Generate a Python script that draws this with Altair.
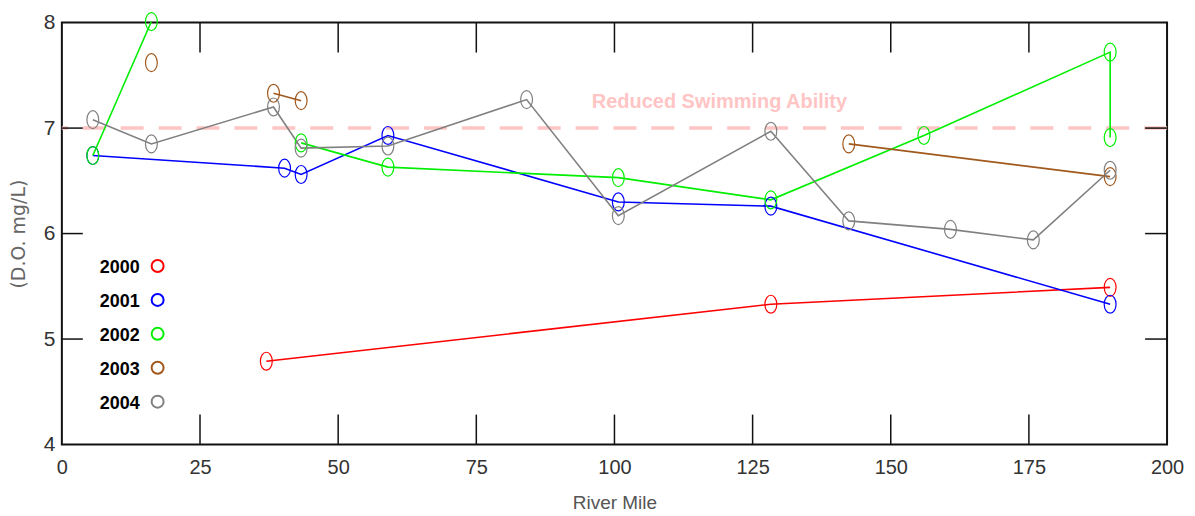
import altair as alt
import pandas as pd

# ---- data ----
years = ["2000", "2001", "2002", "2003", "2004"]
colors = ["#ff0000", "#0000ff", "#00ee00", "#a0581c", "#808080"]

mile_2000 = [37.0, 128.3, 189.7]
do_2000 = [4.79, 5.33, 5.49]
seg_2000 = [0, 0, 0]

mile_2001 = [5.6, 40.3, 43.3, 59.0, 100.7, 128.3, 189.7]
do_2001 = [6.74, 6.62, 6.56, 6.93, 6.30, 6.26, 5.33]
seg_2001 = [0, 0, 0, 0, 0, 0, 0]

mile_2002 = [5.6, 16.2, 43.3, 59.0, 100.7, 128.3, 156.0, 189.7, 189.7]
do_2002 = [6.74, 8.01, 6.86, 6.63, 6.53, 6.32, 6.93, 7.72, 6.91]
seg_2002 = [0, 0, 1, 1, 1, 1, 1, 1, 1]

mile_2003 = [16.2, 38.3, 43.3, 142.4, 189.7]
do_2003 = [7.62, 7.33, 7.26, 6.85, 6.54]
seg_2003 = [0, 1, 1, 2, 2]

mile_2004 = [5.6, 16.2, 38.3, 43.3, 59.0, 84.1, 100.7, 128.3, 142.4, 160.8, 175.8, 189.7]
do_2004 = [7.08, 6.85, 7.20, 6.81, 6.83, 7.27, 6.17, 6.97, 6.12, 6.04, 5.94, 6.60]
seg_2004 = [0] * 12

x_ticks = [0, 25, 50, 75, 100, 125, 150, 175, 200]
y_ticks = [4, 5, 6, 7, 8]
x_inner_ticks = [25, 50, 75, 100, 125, 150, 175]
y_inner_ticks = [5, 6, 7]

threshold = 7
threshold_label = "Reduced Swimming Ability"
threshold_label_x = 119
threshold_label_y = 7.25

# ---- build table ----
rows = []
for yr, ms, ds, ss in [
    ("2000", mile_2000, do_2000, seg_2000),
    ("2001", mile_2001, do_2001, seg_2001),
    ("2002", mile_2002, do_2002, seg_2002),
    ("2003", mile_2003, do_2003, seg_2003),
    ("2004", mile_2004, do_2004, seg_2004),
]:
    for i, (m, d, s) in enumerate(zip(ms, ds, ss)):
        rows.append({"year": yr, "mile": m, "do": d, "seg": f"{yr}-{s}", "idx": i})
df = pd.DataFrame(rows)

W, H = 1108, 423
SANS = "Liberation Sans, Arial, sans-serif"

xscale = alt.Scale(domain=[0, 200], nice=False, zero=False)
yscale = alt.Scale(domain=[4, 8], nice=False, zero=False)
cscale = alt.Scale(domain=years, range=colors)

xaxis = alt.Axis(values=x_ticks, format="d", grid=False, ticks=False, domain=False,
                 labelFlush=False, labelOverlap=False,
                 labelFont=SANS, labelFontSize=20, labelColor="#333",
                 labelPadding=13, title="River Mile", titleFont=SANS,
                 titleFontSize=19, titleFontWeight="normal", titleColor="#555",
                 titlePadding=16)
yaxis = alt.Axis(values=y_ticks, format="d", grid=False, ticks=False, domain=False,
                 labelFlush=False, labelOverlap=False,
                 labelFont=SANS, labelFontSize=21, labelColor="#333",
                 labelPadding=7, title="(D.O. mg/L)", titleFont="DejaVu Sans, sans-serif",
                 titleFontSize=19, titleFontWeight="normal", titleColor="#666",
                 titleX=-43, titleY=H / 2, titleAngle=270, titleBaseline="middle")

base = alt.Chart(df)

lines = base.mark_line(strokeWidth=1.6).encode(
    x=alt.X("mile:Q", scale=xscale, axis=xaxis),
    y=alt.Y("do:Q", scale=yscale, axis=yaxis),
    color=alt.Color("year:N", scale=cscale, legend=None),
    detail="seg:N",
    order="idx:Q",
)

ellipse = "M0,-1A0.66,1,0,1,1,0,1A0.66,1,0,1,1,0,-1Z"
points = base.mark_point(shape=ellipse, size=324, filled=False, strokeWidth=1.2, opacity=1).encode(
    x=alt.X("mile:Q", scale=xscale),
    y=alt.Y("do:Q", scale=yscale),
    color=alt.Color("year:N", scale=cscale, legend=None),
)

ref = alt.Chart(pd.DataFrame({"v": [threshold]})).mark_rule(
    color="#ffc4c4", strokeWidth=3.5, strokeDash=[23, 15]
).encode(y=alt.Y("v:Q", scale=yscale))

ref_text = alt.Chart(pd.DataFrame({"t": [threshold_label], "xx": [threshold_label_x],
                                   "yy": [threshold_label_y]})).mark_text(
    color="#ffc4c4", font=SANS, fontSize=20, fontWeight="bold", align="center", baseline="middle"
).encode(
    x=alt.X("xx:Q", scale=xscale),
    y=alt.Y("yy:Q", scale=yscale),
    text="t:N",
)

xt = pd.DataFrame({"t": x_inner_ticks})
yt = pd.DataFrame({"t": y_inner_ticks})
tick_style = dict(color="#111", strokeWidth=1.5)
top_ticks = alt.Chart(xt).mark_rule(**tick_style).encode(
    x=alt.X("t:Q", scale=xscale), y=alt.value(0), y2=alt.value(30))
bot_ticks = alt.Chart(xt).mark_rule(**tick_style).encode(
    x=alt.X("t:Q", scale=xscale), y=alt.value(H), y2=alt.value(H - 30))
left_ticks = alt.Chart(yt).mark_rule(**tick_style).encode(
    y=alt.Y("t:Q", scale=yscale), x=alt.value(0), x2=alt.value(21))
right_ticks = alt.Chart(yt).mark_rule(**tick_style).encode(
    y=alt.Y("t:Q", scale=yscale), x=alt.value(W), x2=alt.value(W - 22))

main = alt.layer(ref, ref_text, top_ticks, bot_ticks, left_ticks, right_ticks, lines, points)

# manual legend: label left of symbol
leg_df = pd.DataFrame({"year": years})
leg_y = alt.Y("year:N", scale=alt.Scale(type="point", domain=years, range=[244, 380], padding=0), axis=None)
leg_text = alt.Chart(leg_df).mark_text(
    font=SANS, fontSize=18, fontWeight="bold", color="#000", align="right", baseline="middle", dy=2
).encode(x=alt.value(78), y=leg_y, text="year:N")
leg_sym = alt.Chart(leg_df).mark_point(shape="circle", size=144, filled=False, strokeWidth=2, opacity=1).encode(
    x=alt.value(96), y=leg_y, color=alt.Color("year:N", scale=cscale, legend=None))
legend = alt.layer(leg_text, leg_sym)

chart = alt.layer(main, legend).resolve_scale(y="independent").properties(
    width=W, height=H,
    autosize=alt.AutoSizeParams(type="none"),
    padding={"left": 54, "top": 14, "right": 20, "bottom": 70},
    background="white",
).configure_view(
    stroke="#111", strokeWidth=2
)

chart.save("out.html", embed_options={"renderer": "svg", "actions": False})
